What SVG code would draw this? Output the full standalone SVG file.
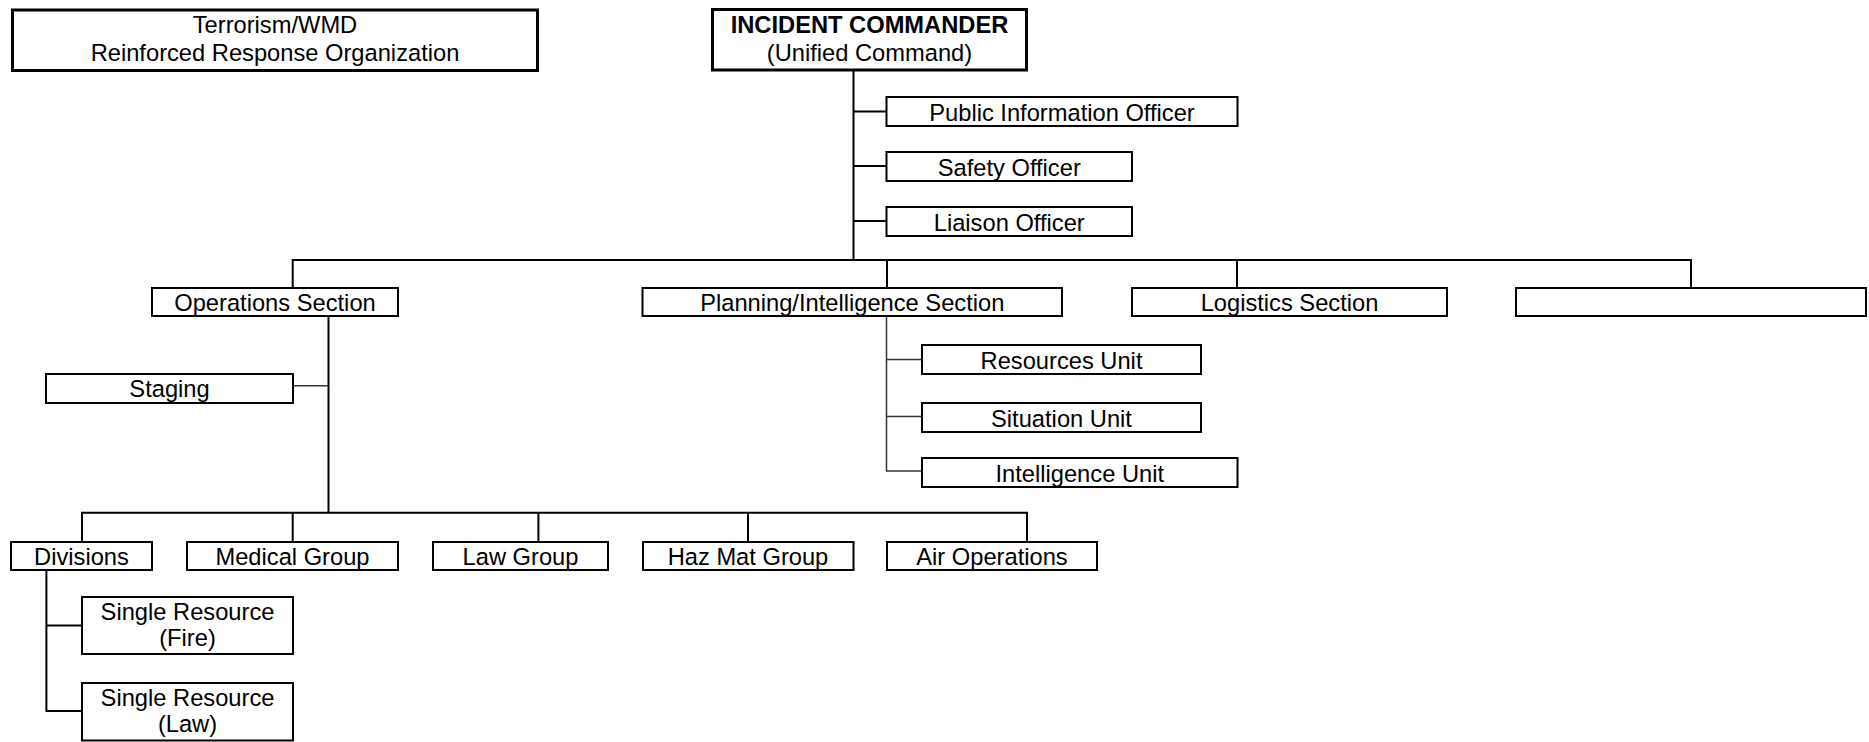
<svg xmlns="http://www.w3.org/2000/svg" width="1869" height="742" viewBox="0 0 1869 742">
<style>
.box{fill:#fff;stroke:#000;stroke-width:2}
.bold{fill:#fff;stroke:#000;stroke-width:3}
text{font-family:"Liberation Sans",Arial,sans-serif;font-size:23.7px;fill:#000;text-anchor:middle}
.b{font-weight:bold}
.c{stroke:#000;stroke-width:2;fill:none}
.t{stroke:#333;stroke-width:1.5;fill:none}
</style>
<rect width="1869" height="742" fill="#fff"/>
<g id="connectors">
<path class="c" d="M853.5 70V260M853.5 111.5H886.5M853.5 166H886.5M853.5 221H886.5"/>
<path class="c" d="M292.7 288V260H1691V288M887 260V288M1237 260V288"/>
<path class="c" d="M328.5 316V512.7"/>
<path class="t" d="M293 385.7H328.5"/>
<path class="t" d="M886.5 316V471H922M886.5 359.5H922M886.5 416.5H922"/>
<path class="c" d="M82 542V512.7H1027V542M292.7 512.7V542M538.4 512.7V542M748 512.7V542"/>
<path class="c" d="M46.4 570V711H82M46.4 625.5H82"/>
</g>
<g id="title"><rect class="bold" x="12.5" y="10" width="525" height="60.5"/><text x="275" y="32.5">Terrorism/WMD</text><text x="275" y="61">Reinforced Response Organization</text></g>
<g id="ic"><rect class="bold" x="712.5" y="9.5" width="314" height="60.5"/><text class="b" x="869.5" y="32.5">INCIDENT COMMANDER</text><text x="869.5" y="61">(Unified Command)</text></g>
<g id="pio"><rect class="box" x="886.5" y="97" width="351" height="29"/><text x="1062" y="120.5">Public Information Officer</text></g>
<g id="safety"><rect class="box" x="886.5" y="152" width="245.5" height="29"/><text x="1009.25" y="175.5">Safety Officer</text></g>
<g id="liaison"><rect class="box" x="886.5" y="207" width="245.5" height="29"/><text x="1009.25" y="230.5">Liaison Officer</text></g>
<g id="ops"><rect class="box" x="152" y="288" width="246" height="28"/><text x="275" y="310.5">Operations Section</text></g>
<g id="planning"><rect class="box" x="642.5" y="288" width="419.5" height="28"/><text x="852.25" y="310.5">Planning/Intelligence Section</text></g>
<g id="logistics"><rect class="box" x="1132" y="288" width="315" height="28"/><text x="1289.5" y="310.5">Logistics Section</text></g>
<g id="blank"><rect class="box" x="1516" y="288" width="350" height="28"/></g>
<g id="staging"><rect class="box" x="46" y="374" width="247" height="29"/><text x="169.5" y="397">Staging</text></g>
<g id="resources"><rect class="box" x="922" y="345" width="279" height="29"/><text x="1061.5" y="368.5">Resources Unit</text></g>
<g id="situation"><rect class="box" x="922" y="403" width="279" height="29"/><text x="1061.5" y="426.5">Situation Unit</text></g>
<g id="intel"><rect class="box" x="922" y="458" width="315.5" height="29"/><text x="1079.75" y="481.5">Intelligence Unit</text></g>
<g id="divisions"><rect class="box" x="11" y="542" width="141" height="28"/><text x="81.5" y="564.5">Divisions</text></g>
<g id="medical"><rect class="box" x="187" y="542" width="211" height="28"/><text x="292.5" y="564.5">Medical Group</text></g>
<g id="law"><rect class="box" x="433" y="542" width="175" height="28"/><text x="520.5" y="564.5">Law Group</text></g>
<g id="hazmat"><rect class="box" x="643" y="542" width="210.5" height="28"/><text x="748" y="564.5">Haz Mat Group</text></g>
<g id="airops"><rect class="box" x="887" y="542" width="210" height="28"/><text x="992" y="564.5">Air Operations</text></g>
<g id="srfire"><rect class="box" x="82" y="597" width="211" height="57"/><text x="187.5" y="620">Single Resource</text><text x="187.5" y="646">(Fire)</text></g>
<g id="srlaw"><rect class="box" x="82" y="683" width="211" height="57.5"/><text x="187.5" y="706">Single Resource</text><text x="187.5" y="732">(Law)</text></g>
</svg>
